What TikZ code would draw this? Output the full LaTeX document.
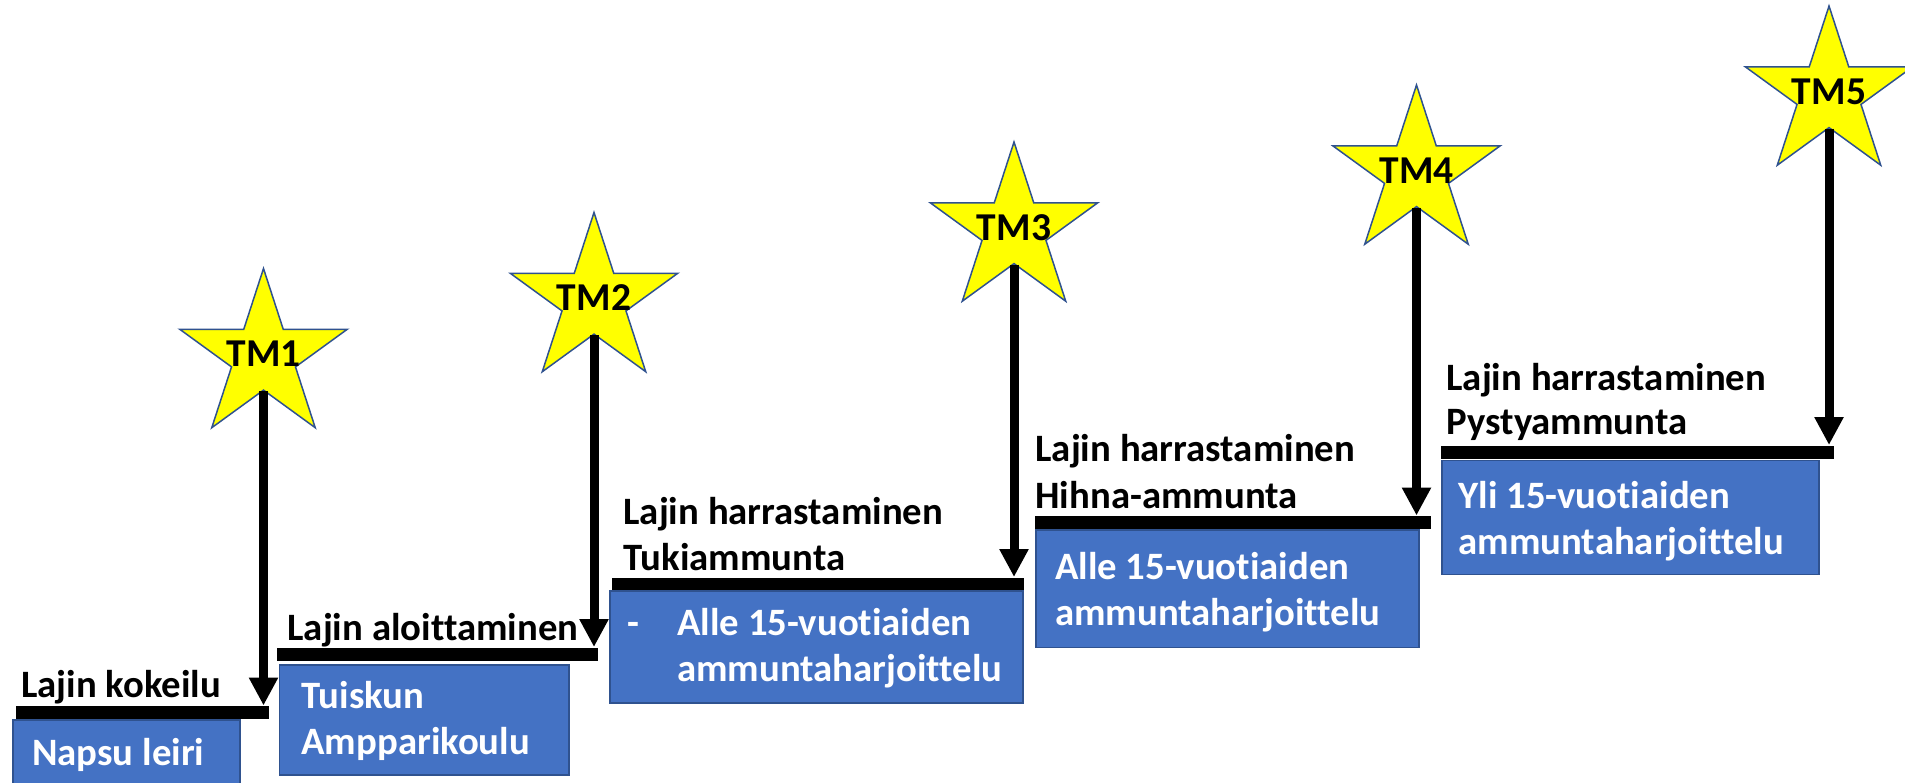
\documentclass[tikz,border=0pt]{standalone}
\usepackage{fontspec}
\setmainfont{Carlito}[Ligatures={NoCommon}]
\usetikzlibrary{shapes.geometric,arrows.meta,fit}
\definecolor{boxblue}{HTML}{4472C4}
\definecolor{edgeblue}{HTML}{2F528F}
\definecolor{staryellow}{HTML}{FFFF00}
\begin{document}
\begin{tikzpicture}[x=0.4pt,y=-0.4pt,
  txt/.style={inner sep=0pt, anchor=base west, font=\fontsize{15.5pt}{18pt}\selectfont\bfseries},
  wtxt/.style={txt, text=white},
  tmtxt/.style={inner sep=0pt, anchor=center, font=\fontsize{15.8pt}{18pt}\selectfont\bfseries},
  starbox/.style={star, star points=5, star point ratio=2.618, minimum size=70.4pt, inner sep=0pt,
     fill=staryellow, draw=edgeblue, line width=0.6pt},
  barbox/.style={fill=black, draw=none, inner sep=0pt},
  stepbox/.style={fill=boxblue, draw=edgeblue, line width=0.6pt, inner sep=0pt},
  drop/.style={line width=3.6pt, -{Triangle[width=11pt,length=11.2pt]}}
]
\useasboundingbox (0,0) rectangle (1905,782);
\clip (0,0) rectangle (1905,782);

% bars
\node[barbox, fit={(16,706) (269,719)}] (bar1) {};
\node[barbox, fit={(277,647.5) (598,661)}] (bar2) {};
\node[barbox, fit={(611.5,577.5) (1024,590.5)}] (bar3) {};
\node[barbox, fit={(1035,516) (1431,529)}] (bar4) {};
\node[barbox, fit={(1441,445.5) (1834,458.5)}] (bar5) {};

% boxes
\node[stepbox, fit={(13,720) (240,800)}] (box1) {};
\node[stepbox, fit={(279.5,665) (569,775)}] (box2) {};
\node[stepbox, fit={(610,591) (1023,703)}] (box3) {};
\node[stepbox, fit={(1036,530) (1419,647.5)}] (box4) {};
\node[stepbox, fit={(1442,460.5) (1819,574.5)}] (box5) {};

% labels above bars
\node[txt] (l1) at (20.7,697.5) {Lajin kokeilu};
\node[txt] (l2) at (287,640) {Lajin aloittaminen};
\node[txt] (l3a) at (623,524.3) {Lajin harrastaminen};
\node[txt] (l3b) at (623,570.7) {Tukiammunta};
\node[txt] (l4a) at (1035,461.7) {Lajin harrastaminen};
\node[txt] (l4b) at (1035,508) {Hihna-ammunta};
\node[txt] (l5a) at (1446,390) {Lajin harrastaminen};
\node[txt] (l5b) at (1446,434) {Pystyammunta};

% box texts
\node[wtxt] (t1) at (31.7,765.7) {Napsu leiri};
\node[wtxt] (t2a) at (301,708) {Tuiskun};
\node[wtxt] (t2b) at (301,754.5) {Ampparikoulu};
\node[wtxt] (t3d) at (627,635) {-};
\node[wtxt] (t3a) at (676.7,635) {Alle 15-vuotiaiden};
\node[wtxt] (t3b) at (676.7,681.7) {ammuntaharjoittelu};
\node[wtxt] (t4a) at (1054.6,579.6) {Alle 15-vuotiaiden};
\node[wtxt] (t4b) at (1054.6,625.7) {ammuntaharjoittelu};
\node[wtxt] (t5a) at (1458,508) {Yli 15-vuotiaiden};
\node[wtxt] (t5b) at (1458,554) {ammuntaharjoittelu};

% stars
\node[starbox] (s1) at (263.5,356.5) {};
\node[starbox] (s2) at (594,300.5) {};
\node[starbox] (s3) at (1014,230) {};
\node[starbox] (s4) at (1416.5,173) {};
\node[starbox] (s5) at (1829,94) {};

% arrows
\draw[drop] (s1.inner point 3) -- (s1.inner point 3 |- bar1.north);
\draw[drop] (s2.inner point 3) -- (s2.inner point 3 |- bar2.north);
\draw[drop] (s3.inner point 3) -- (s3.inner point 3 |- bar3.north);
\draw[drop] (s4.inner point 3) -- (s4.inner point 3 |- bar4.north);
\draw[drop] (s5.inner point 3) -- (s5.inner point 3 |- bar5.north);

% star labels
\node[tmtxt] (tm1) at ([yshift=1pt]s1.center) {TM1};
\node[tmtxt] (tm2) at ([yshift=1pt]s2.center) {TM2};
\node[tmtxt] (tm3) at ([yshift=1pt]s3.center) {TM3};
\node[tmtxt] (tm4) at ([yshift=1pt]s4.center) {TM4};
\node[tmtxt] (tm5) at ([yshift=1pt]s5.center) {TM5};
\end{tikzpicture}
\end{document}
